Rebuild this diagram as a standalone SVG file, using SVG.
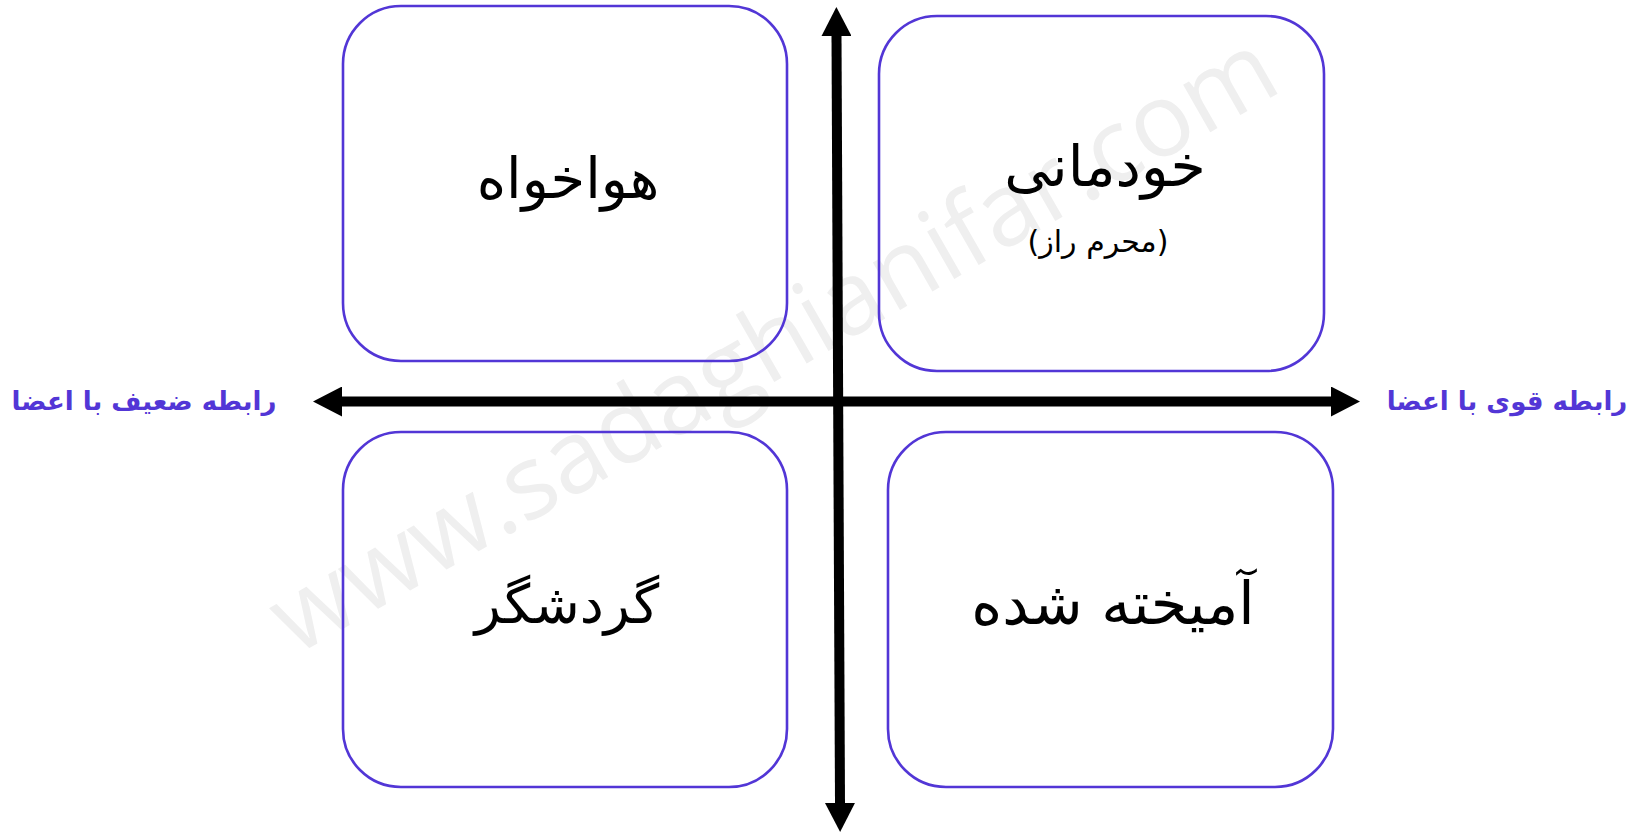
<svg xmlns="http://www.w3.org/2000/svg" width="1634" height="833" viewBox="0 0 1634 833">
<style>
.box{fill:none;stroke:#5236d6;stroke-width:2.6}
.main{font-family:"DejaVu Sans",sans-serif;font-size:56px;fill:#000;text-anchor:middle}
.sub{font-family:"DejaVu Sans",sans-serif;font-size:30px;fill:#000;text-anchor:middle}
.lab{font-family:"DejaVu Sans",sans-serif;font-size:26px;font-weight:bold;fill:#5236d6;text-anchor:middle}
.axis{stroke:#000;stroke-width:10;fill:none}
.wm{font-family:"Open Sans",sans-serif;font-size:102px;fill:#efefef;text-anchor:middle}
</style>
<defs>
<marker id="ah" markerUnits="userSpaceOnUse" markerWidth="30" markerHeight="30" viewBox="0 0 30 30" refX="0" refY="15" orient="auto-start-reverse">
<path d="M0,0 L29,15 L0,30 Z" fill="#000"/>
</marker>
</defs>
<rect width="1634" height="833" fill="#fff"/>
<text class="wm" transform="translate(790,373) rotate(-29.8)" textLength="1140" lengthAdjust="spacingAndGlyphs">www.sadaghianifar.com</text>
<g id="n-havakhah">
<rect class="box" x="343" y="6" width="444" height="355" rx="58"/>
<text class="main" x="568" y="198" direction="rtl">هواخواه</text>
</g>
<g id="n-khodemani">
<rect class="box" x="879" y="16" width="445" height="355" rx="58"/>
<text class="main" x="1105" y="186" direction="rtl" style="font-size:57px">خودمانی</text>
<text class="sub" x="1098" y="252" direction="rtl">(محرم راز)</text>
</g>
<g id="n-gardeshgar">
<rect class="box" x="343" y="432" width="444" height="355" rx="58"/>
<text class="main" x="567" y="623" direction="rtl" style="font-size:54px">گردشگر</text>
</g>
<g id="n-amikhte">
<rect class="box" x="888" y="432" width="445" height="355" rx="58"/>
<text class="main" x="1113" y="624" direction="rtl" style="font-size:59px">آمیخته شده</text>
</g>
<g id="connectors">
<line class="axis" x1="342" y1="401.5" x2="1331" y2="401.5" marker-start="url(#ah)" marker-end="url(#ah)"/>
<line class="axis" x1="836.5" y1="36" x2="840" y2="803" marker-start="url(#ah)" marker-end="url(#ah)"/>
</g>
<g id="labels">
<text class="lab" x="144" y="410" direction="rtl">رابطه ضعیف با اعضا</text>
<text class="lab" x="1507" y="410" direction="rtl">رابطه قوی با اعضا</text>
</g>
</svg>
